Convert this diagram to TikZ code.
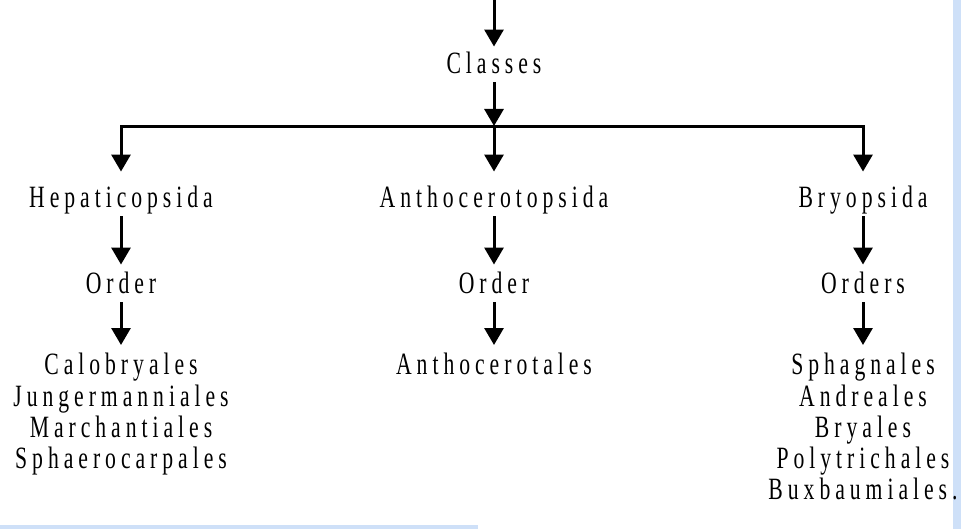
\documentclass[tikz,border=0pt]{standalone}
\usepackage{fontspec}
\setmainfont{Liberation Serif}[FakeStretch=0.7, LetterSpace=16]
\usetikzlibrary{arrows.meta}

\definecolor{pageblue}{RGB}{206,224,248}

\tikzset{
  taxon/.style={inner sep=0pt, text height=20.5pt, text depth=0pt,
    font=\fontsize{31}{31.3}\selectfont},
  taxlist/.style={inner sep=0pt, align=center, anchor=north,
    font=\fontsize{31}{31.3}\selectfont},
  down/.style={line width=3pt, -{Triangle[width=19pt,length=17pt]},
    shorten <=9pt, shorten >=8pt},
}

\begin{document}
\begin{tikzpicture}[x=1pt, y=-1pt]
  \useasboundingbox (0,0) rectangle (961,529);

  % page edges
  \fill[pageblue] (953,0) rectangle (961,529);
  \fill[pageblue] (0,525) rectangle (478,529);

  % top level
  \coordinate (top) at (494,0);
  \node[taxon] (classes) at (494,63) {Classes};
  \coordinate (bar) at (494,127);

  % the three classes
  \node[taxon] (hep) at (121,197) {Hepaticopsida};
  \node[taxon] (anth) at (494,197) {Anthocerotopsida};
  \node[taxon] (bry) at (863,197) {Bryopsida};

  % orders
  \node[taxon] (hepord) at (121,283) {Order};
  \node[taxon] (anthord) at (494,283) {Order};
  \node[taxon] (bryord) at (863,283) {Orders};

  % lists of orders
  \node[taxlist] (heplist) at (121,353)
    {Calobryales\\Jungermanniales\\Marchantiales\\Sphaerocarpales};
  \node[taxlist] (anthlist) at (494,353) {Anthocerotales};
  \node[taxlist] (brylist) at (863,353)
    {Sphagnales\\Andreales\\Bryales\\Polytrichales\\Buxbaumiales.};

  % arrows
  \draw[down, shorten <=0pt, shorten >=6pt] (top) -- (classes.north);
  \draw[down, shorten >=1pt] (classes.south) -- (bar);
  \draw[line width=3pt, line cap=rect] (hep |- bar) -- (bry |- bar);
  \foreach \c in {hep, anth, bry}
    \draw[down, shorten <=0pt, shorten >=15pt] (\c |- bar) -- (\c.north);
  \foreach \a/\b in {hep/hepord, hepord/heplist, anth/anthord,
                     anthord/anthlist, bry/bryord, bryord/brylist}
    \draw[down] (\a.south) -- (\b.north);
\end{tikzpicture}
\end{document}
